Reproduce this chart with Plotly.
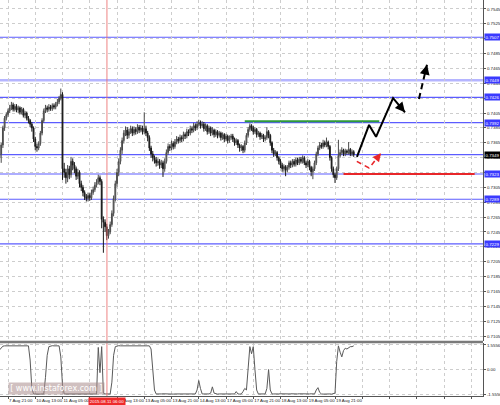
import plotly.graph_objects as go

# ---------------- data (prices in pips: 7355 -> 0.7355) ----------------
bar_index = list(range(-5, 204))

open_pips = [
    7345, 7350, 7362, 7385, 7398, 7403,
    7408, 7412, 7416, 7410, 7414, 7409, 7412, 7406, 7410, 7402,
    7405, 7398, 7395, 7390,
    7385, 7370, 7360, 7358,
    7364, 7378, 7395, 7408,
    7412, 7410, 7413, 7411, 7415, 7413, 7417, 7420, 7425,
    7430,
    7330, 7325, 7318, 7330, 7322,
    7340, 7335, 7330, 7320, 7325, 7310,
    7305, 7298, 7292, 7290, 7294,
    7291, 7298, 7302, 7308, 7312, 7318,
    7313, 7262, 7258, 7252, 7240, 7245,
    7255, 7270, 7290, 7310, 7325,
    7340, 7355, 7368, 7378,
    7382, 7375, 7380, 7384, 7378, 7383, 7380, 7386, 7382, 7385, 7380, 7384, 7378,
    7372, 7358, 7350, 7345, 7342, 7338, 7340, 7335, 7338, 7330,
    7340, 7352, 7360, 7358, 7364, 7360, 7366, 7370,
    7368, 7372, 7370, 7376, 7374, 7380, 7378, 7384, 7382, 7388, 7385, 7390,
    7392, 7388, 7390, 7384, 7388, 7380, 7385, 7378, 7382, 7376, 7380,
    7375, 7378, 7372, 7376, 7370, 7374, 7368, 7372, 7374, 7370, 7365, 7368, 7362,
    7358, 7360, 7355, 7365, 7375, 7383,
    7388, 7385, 7380, 7383, 7376, 7378, 7373, 7375, 7370, 7372, 7380,
    7375, 7365, 7355, 7350, 7352,
    7345, 7340, 7335, 7330, 7333, 7328, 7332, 7338, 7335, 7340, 7336, 7342, 7338, 7343, 7340, 7345, 7338, 7335, 7340, 7332, 7326,
    7330, 7338, 7350, 7358, 7362, 7360, 7365, 7362, 7366,
    7360, 7345, 7330, 7322, 7318,
    7330, 7348, 7352, 7355, 7350, 7354, 7352, 7356, 7350, 7353,
]

high_pips = [
    7353, 7365, 7388, 7401, 7406, 7411,
    7416, 7420, 7419, 7417, 7417, 7415, 7414, 7413, 7412, 7408,
    7407, 7401, 7397, 7393,
    7387, 7373, 7364, 7367,
    7381, 7398, 7411, 7416,
    7415, 7417, 7416, 7418, 7418, 7420, 7424, 7428, 7438,
    7433,
    7338, 7330, 7335, 7334, 7346,
    7344, 7339, 7333, 7330, 7328, 7314,
    7308, 7301, 7296, 7298, 7297,
    7302, 7306, 7312, 7316, 7322, 7321,
    7316, 7266, 7262, 7256, 7249, 7259,
    7274, 7294, 7314, 7330, 7344,
    7359, 7372, 7382, 7387,
    7386, 7384, 7388, 7387, 7387, 7386, 7390, 7389, 7389, 7388, 7406, 7388, 7381,
    7375, 7361, 7354, 7348, 7346, 7344, 7343, 7342, 7341, 7344,
    7356, 7364, 7363, 7368, 7367, 7370, 7374, 7373,
    7376, 7375, 7380, 7379, 7384, 7383, 7388, 7387, 7392, 7391, 7394, 7396,
    7395, 7394, 7393, 7391, 7390, 7388, 7387, 7386, 7384, 7383, 7382,
    7381, 7380, 7379, 7378, 7377, 7376, 7375, 7377, 7377, 7372, 7371, 7370, 7364,
    7363, 7362, 7368, 7378, 7386, 7391,
    7390, 7388, 7386, 7385, 7381, 7380, 7378, 7377, 7375, 7386, 7382,
    7377, 7367, 7358, 7355, 7354,
    7347, 7343, 7338, 7336, 7335, 7335, 7341, 7341, 7343, 7343, 7345, 7345, 7346, 7346, 7348, 7347, 7341, 7343, 7342, 7334, 7333,
    7341, 7353, 7361, 7366, 7365, 7369, 7368, 7372, 7368,
    7362, 7347, 7333, 7325, 7333,
    7369, 7356, 7359, 7357, 7357, 7356, 7366, 7358, 7356, 7355,
]

low_pips = [
    7336, 7338, 7358, 7381, 7395, 7400,
    7405, 7409, 7407, 7407, 7406, 7405, 7403, 7403, 7399, 7398,
    7395, 7391, 7386, 7380,
    7366, 7355, 7353, 7355,
    7361, 7375, 7392, 7405,
    7406, 7407, 7408, 7408, 7410, 7410, 7414, 7417, 7422,
    7315,
    7318, 7310, 7312, 7316, 7318,
    7328, 7324, 7315, 7316, 7305, 7300,
    7293, 7288, 7286, 7286, 7287,
    7288, 7295, 7299, 7305, 7309, 7308,
    7250, 7217, 7245, 7234, 7236, 7242,
    7252, 7266, 7286, 7306, 7320,
    7336, 7350, 7364, 7374,
    7370, 7371, 7377, 7374, 7375, 7376, 7377, 7378, 7379, 7376, 7377, 7374, 7367,
    7354, 7345, 7340, 7337, 7333, 7334, 7330, 7331, 7319, 7326,
    7337, 7349, 7354, 7355, 7356, 7357, 7363, 7364,
    7365, 7366, 7367, 7370, 7371, 7374, 7375, 7378, 7379, 7381, 7382, 7387,
    7384, 7385, 7380, 7381, 7376, 7377, 7374, 7375, 7372, 7373, 7371,
    7372, 7368, 7369, 7366, 7367, 7364, 7365, 7369, 7366, 7361, 7362, 7358, 7353,
    7354, 7351, 7352, 7362, 7372, 7380,
    7381, 7376, 7377, 7372, 7373, 7369, 7370, 7366, 7367, 7369, 7371,
    7361, 7351, 7346, 7347, 7341,
    7336, 7331, 7326, 7326, 7320, 7325, 7329, 7331, 7332, 7333, 7333, 7335, 7335, 7337, 7337, 7335, 7331, 7332, 7328, 7320, 7316,
    7327, 7335, 7347, 7355, 7357, 7357, 7359, 7359, 7356,
    7341, 7326, 7318, 7311, 7315,
    7327, 7345, 7349, 7347, 7347, 7349, 7349, 7347, 7347, 7346,
]

close_pips = [
    7350, 7362, 7385, 7398, 7403, 7408,
    7412, 7416, 7410, 7414, 7409, 7412, 7406, 7410, 7402, 7405,
    7398, 7395, 7390, 7385,
    7370, 7360, 7358, 7364,
    7378, 7395, 7408, 7412,
    7410, 7413, 7411, 7415, 7413, 7417, 7420, 7425, 7430,
    7330,
    7325, 7318, 7330, 7322, 7340,
    7335, 7330, 7320, 7325, 7310, 7305,
    7298, 7292, 7290, 7294, 7291,
    7298, 7302, 7308, 7312, 7318, 7313,
    7262, 7258, 7252, 7240, 7245, 7255,
    7270, 7290, 7310, 7325, 7340,
    7355, 7368, 7378, 7382,
    7375, 7380, 7384, 7378, 7383, 7380, 7386, 7382, 7385, 7380, 7384, 7378, 7372,
    7358, 7350, 7345, 7342, 7338, 7340, 7335, 7338, 7330, 7340,
    7352, 7360, 7358, 7364, 7360, 7366, 7370, 7368,
    7372, 7370, 7376, 7374, 7380, 7378, 7384, 7382, 7388, 7385, 7390, 7392,
    7388, 7390, 7384, 7388, 7380, 7385, 7378, 7382, 7376, 7380, 7375,
    7378, 7372, 7376, 7370, 7374, 7368, 7372, 7374, 7370, 7365, 7368, 7362, 7358,
    7360, 7355, 7365, 7375, 7383, 7388,
    7385, 7380, 7383, 7376, 7378, 7373, 7375, 7370, 7372, 7380, 7375,
    7365, 7355, 7350, 7352, 7345,
    7340, 7335, 7330, 7333, 7328, 7332, 7338, 7335, 7340, 7336, 7342, 7338, 7343, 7340, 7345, 7338, 7335, 7340, 7332, 7326, 7330,
    7338, 7350, 7358, 7362, 7360, 7365, 7362, 7366, 7360,
    7345, 7330, 7322, 7318, 7330,
    7348, 7352, 7355, 7350, 7354, 7352, 7356, 7350, 7353, 7349,
]

osc_values = [
    1.24, 1.40, 1.48, 1.50, 1.50, 1.51,
    1.50, 1.51, 1.50, 1.50, 1.51, 1.50, 1.50, 1.51, 1.50, 1.50, 1.49, 1.50,
    0.60, -1.20,
    -1.55, -1.56, -1.55, -1.55, -1.56, -1.55, -1.55,
    -0.50, 0.90, 1.45,
    1.50, 1.51, 1.50, 1.50, 1.51, 1.50,
    0.80, -1.00, -1.55,
    -1.55, -1.56, -1.55, -1.55, -1.54, -1.55, -1.56, -1.55, -1.55, -1.55,
    -1.56, -1.55, -1.55, -1.54, -1.55, -1.55, -1.56, -1.55, -1.55,
    1.40, -0.20, 1.45, -1.50,
    -1.55, -1.56, -1.55, -1.55,
    -0.80, 0.90, 1.45,
    1.50, 1.51, 1.50, 1.50, 1.51, 1.50, 1.50, 1.49, 1.50, 1.51,
    1.50, 1.50, 1.51, 1.50, 1.50, 1.49, 1.50, 1.51, 1.50, 1.50,
    1.30, 0.00, -1.30,
    -1.55, -1.56, -1.55, -1.55, -1.54, -1.55, -1.56, -1.55, -1.55, -1.55, -1.56, -1.55,
    -1.55, -1.54, -1.55, -1.55, -1.56, -1.55, -1.55, -1.55, -1.54, -1.55, -1.56, -1.55,
    -1.30, -0.70, -1.20,
    -1.55, -1.55, -1.56, -1.55, -1.55,
    -1.50, -1.10, -1.50,
    -1.55, -1.56, -1.55, -1.55, -1.54, -1.55, -1.55, -1.56, -1.55, -1.55, -1.54, -1.55,
    -1.40,
    -1.55, -1.56, -1.55,
    -1.40, -1.20, -1.30,
    0.20, 1.45, 1.00, 1.45, 0.00, -1.30,
    -1.55, -1.56, -1.55, -1.55, -1.55,
    -1.20, 0.00, -1.30,
    -1.55, -1.55, -1.56, -1.55, -1.55, -1.54, -1.55, -1.56, -1.55, -1.55, -1.55, -1.54, -1.55,
    -1.56, -1.55, -1.55, -1.54, -1.55, -1.55, -1.56, -1.55, -1.55, -1.55, -1.54, -1.55, -1.55,
    -1.30, -1.15, -1.45,
    -1.55, -1.56, -1.55, -1.55, -1.54, -1.55, -1.56, -1.55,
    -1.50, 0.50, 1.50, 1.10, 0.80, 1.20, 1.35, 1.30, 1.40, 1.45, 1.45, 1.50,
]

time_labels = ["7 Aug 21:00", "10 Aug 13:00", "11 Aug 05:00", "11 Aug 21:00",
               "12 Aug 13:00", "13 Aug 05:00", "13 Aug 21:00", "14 Aug 13:00",
               "17 Aug 05:00", "17 Aug 21:00", "18 Aug 13:00", "19 Aug 05:00",
               "19 Aug 21:00"]
label_bars = [0, 16, 32, 48, 64, 80, 96, 112, 128, 144, 160, 176, 192]
extra_grid_bars = [208, 224, 240, 256, 272]
first_cut_label = "7 Aug 05:00"
first_cut_bar = -16

price_ticks = [0.7105, 0.7125, 0.7145, 0.7165, 0.7185, 0.7205, 0.7225, 0.7245,
               0.7265, 0.7285, 0.7305, 0.7325, 0.7345, 0.7365, 0.7385, 0.7405,
               0.7425, 0.7445, 0.7465, 0.7485, 0.7505, 0.7525, 0.7545]

level_prices = [0.7507, 0.7449, 0.7426, 0.7392, 0.7349, 0.7323, 0.7289, 0.7229]
current_price = 0.7349

green_level = 0.7394
green_bars = [139, 218]
red_level = 0.7323
red_bars = [197, 274]

main_path_bars = [204.9, 212.0, 216.1, 226.1, 233.1]
main_path_prices = [0.7346, 0.7389, 0.7373, 0.7425, 0.7406]
ext_path_bars = [241.3, 246.0]
ext_path_prices = [0.7424, 0.7470]
alt_path_bars = [204.8, 212.0, 219.0]
alt_path_prices = [0.7340, 0.7331, 0.7351]

crosshair_bar = 58.1
crosshair_label = "2015.08.11 06:00"

osc_ticks = [-1.5556, 0.0, 1.5556]
osc_ticktext = ["-1.5556", "0.00", "1.5556"]

# ---------------- figure ----------------
FONT = "Liberation Sans"
SMALL = 4.4
BLUE = "#3a3aff"
GRID = "#cdcdcd"

o = [v / 10000 for v in open_pips]
h = [v / 10000 for v in high_pips]
l = [v / 10000 for v in low_pips]
c = [v / 10000 for v in close_pips]

fig = go.Figure()

for p in level_prices:
    if p == 0.7449:
        fig.add_hline(y=p, line=dict(color="rgba(90,90,255,0.45)", width=2.5), layer="below")
    else:
        fig.add_hline(y=p, line=dict(color="#5c5cff", width=1.2), layer="below")

fig.add_trace(go.Candlestick(
    x=bar_index, open=o, high=h, low=l, close=c,
    increasing=dict(line=dict(color="#4a4a4a", width=1), fillcolor="#9a9a9a"),
    decreasing=dict(line=dict(color="#1a1a1a", width=1), fillcolor="#1a1a1a"),
    whiskerwidth=0, xaxis="x", yaxis="y", hoverinfo="skip",
))

fig.add_trace(go.Scatter(
    x=bar_index, y=osc_values, mode="lines",
    line=dict(color="#5a5a5a", width=1), xaxis="x", yaxis="y2", hoverinfo="skip",
))

fig.add_trace(go.Scatter(x=green_bars, y=[green_level, green_level], mode="lines",
                         line=dict(color="#2e9a3a", width=2), xaxis="x", yaxis="y"))
fig.add_trace(go.Scatter(x=red_bars, y=[red_level, red_level], mode="lines",
                         line=dict(color="#e8262a", width=2), xaxis="x", yaxis="y"))

fig.add_trace(go.Scatter(x=main_path_bars, y=main_path_prices, mode="lines",
                         line=dict(color="black", width=2), xaxis="x", yaxis="y"))
fig.add_trace(go.Scatter(x=ext_path_bars, y=ext_path_prices, mode="lines",
                         line=dict(color="black", width=2, dash="6px,4px"), xaxis="x", yaxis="y"))
fig.add_trace(go.Scatter(x=alt_path_bars, y=alt_path_prices, mode="lines",
                         line=dict(color="#e8262a", width=1.6, dash="5px,4px"), xaxis="x", yaxis="y"))


def arrow_head(xs, ys, color, width):
    x0, x1 = xs[-2], xs[-1]
    y0, y1 = ys[-2], ys[-1]
    fig.add_annotation(x=x1, y=y1, ax=x1 - 0.25 * (x1 - x0), ay=y1 - 0.25 * (y1 - y0),
                       xref="x", yref="y", axref="x", ayref="y", text="",
                       showarrow=True, arrowhead=2, arrowsize=1.1,
                       arrowwidth=width, arrowcolor=color)


arrow_head(main_path_bars, main_path_prices, "black", 1.8)
arrow_head(ext_path_bars, ext_path_prices, "black", 1.8)
arrow_head(alt_path_bars, alt_path_prices, "#e8262a", 1.5)

fig.add_shape(type="line", xref="x", yref="paper", x0=crosshair_bar, x1=crosshair_bar,
              y0=0, y1=1, line=dict(color="rgba(235,110,110,0.85)", width=1))

fig.add_shape(type="line", xref="paper", yref="paper", x0=0, x1=1, y0=0.1364, y1=0.1364,
              line=dict(color="#7a7a7a", width=2.5))

for p in level_prices:
    fig.add_annotation(xref="paper", yref="y", x=1, y=p, xanchor="left", xshift=1,
                       text=f"{p:.4f}", showarrow=False,
                       font=dict(family=FONT, size=SMALL, color="white"),
                       bgcolor="black" if p == current_price else BLUE,
                       borderpad=0.5)

fig.add_annotation(xref="x", yref="paper", x=crosshair_bar, y=0, yanchor="top",
                   yshift=-0.5, text=crosshair_label, showarrow=False,
                   font=dict(family=FONT, size=SMALL, color="white"),
                   bgcolor="#ee2a2a", borderpad=0.8)

fig.add_annotation(xref="x", yref="paper", x=first_cut_bar, y=0, xanchor="left",
                   yanchor="top", yshift=-1, xshift=1.5, text=first_cut_label,
                   showarrow=False, font=dict(family=FONT, size=SMALL, color="#222"))

fig.add_annotation(xref="paper", yref="paper", x=0.016, y=0.0, xanchor="left",
                   yanchor="bottom", yshift=1, text="[ www.instaforex.com ]", showarrow=False,
                   font=dict(family="DejaVu Sans", size=8, color="white"),
                   bgcolor="rgba(170,140,140,0.55)", borderpad=1.2)

grid_bars = label_bars + extra_grid_bars
grid_text = time_labels + [""] * len(extra_grid_bars)

axis_common = dict(ticks="outside", ticklen=2, tickcolor="#555",
                   showgrid=True, gridcolor=GRID, griddash="dot", gridwidth=1,
                   zeroline=False, showline=True, linecolor="#555", linewidth=1,
                   automargin=False,
                   tickfont=dict(family=FONT, size=SMALL, color="#222"))

fig.update_layout(
    width=500, height=405,
    margin=dict(l=0, r=17, t=0, b=9, pad=0, autoexpand=False),
    paper_bgcolor="white", plot_bgcolor="white",
    showlegend=False, hovermode=False,
    font=dict(family=FONT, size=SMALL, color="#222"),
    xaxis=dict(domain=[0, 1], anchor="y2", range=[-4.7, 278.9],
               tickvals=grid_bars, ticktext=grid_text, tickangle=0,
               ticklabelposition="outside right",
               rangeslider=dict(visible=False), **axis_common),
    yaxis=dict(domain=[0.1389, 1], anchor="x", side="right",
               range=[0.70983, 0.75571], tickvals=price_ticks, tickformat=".4f",
               **axis_common),
    yaxis2=dict(domain=[0, 0.1338], anchor="x", side="right",
                range=[-1.68, 1.68], tickvals=osc_ticks, ticktext=osc_ticktext,
                **axis_common),
)

fig.write_html(
    "out.html",
    config={"displayModeBar": False, "staticPlot": True},
    post_script="document.body.style.margin='0px';document.body.style.overflow='hidden';",
)
